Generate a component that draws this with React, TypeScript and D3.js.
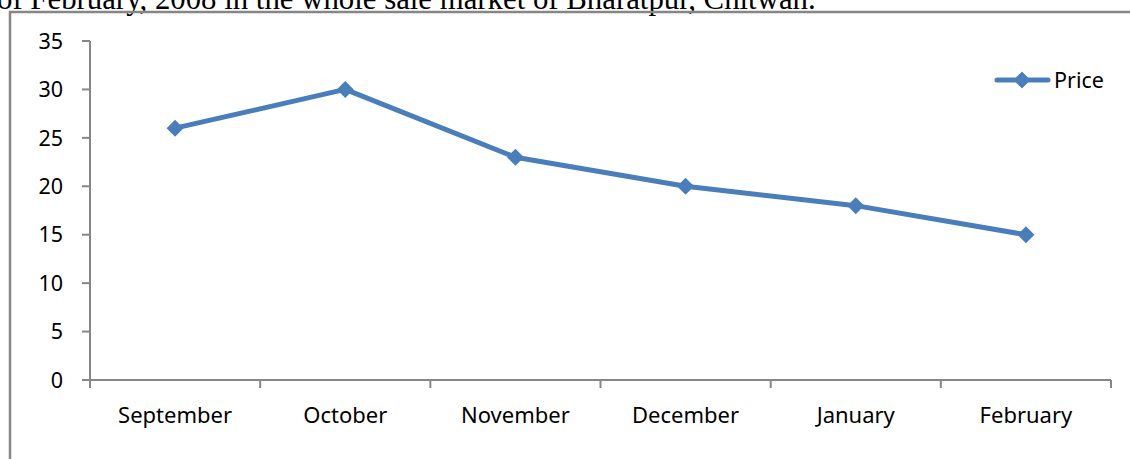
import React from "react"
import * as d3 from "d3"

const MONTHS = ["September", "October", "November", "December", "January", "February"]
const PRICES = [26, 30, 23, 20, 18, 15]
const Y_TICKS = [0, 5, 10, 15, 20, 25, 30, 35]
const SERIES_NAME = "Price"
const CAPTION = "of February, 2008 in the whole sale market of Bharatpur, Chitwan."

const W = 1130
const H = 459
const PLOT = { left: 90, right: 1111, top: 41, bottom: 380 }
const BLUE = "#4A7EBB"
const AXIS = "#868686"
const FONT = "'Noto Sans', sans-serif"

const diamond = (x: number, y: number, r: number) =>
    `M${x},${y - r}L${x + r},${y}L${x},${y + r}L${x - r},${y}Z`

export default function App() {
    const x = d3.scaleBand().domain(MONTHS).range([PLOT.left, PLOT.right])
    const y = d3.scaleLinear().domain([0, 35]).range([PLOT.bottom, PLOT.top])
    const cx = (m: string) => (x(m) ?? 0) + x.bandwidth() / 2

    const line = d3
        .line<number>()
        .x((_, i) => cx(MONTHS[i]))
        .y((d) => y(d))

    const xTicks = MONTHS.map((m) => x(m) ?? 0).concat([PLOT.right])

    return (
        <svg
            width={W}
            height={H}
            style={{ position: "absolute", left: 0, top: 0, background: "#fff" }}
        >
            <text x={-3} y={9} fontFamily="'Liberation Serif', serif" fontSize={30.8} fill="#000">
                {CAPTION}
            </text>
            {/* chart frame */}
            <path d={`M10,${H}V12H${W}`} fill="none" stroke={AXIS} strokeWidth={2.5} />

            {/* y axis */}
            <line x1={PLOT.left} x2={PLOT.left} y1={y(35)} y2={y(0)} stroke={AXIS} strokeWidth={2} />
            {Y_TICKS.map((t) => (
                <g key={t}>
                    <line x1={PLOT.left - 8} x2={PLOT.left} y1={y(t)} y2={y(t)} stroke={AXIS} strokeWidth={2} />
                    <text
                        x={63}
                        y={y(t)}
                        dy="0.36em"
                        textAnchor="end"
                        fontFamily={FONT}
                        fontSize={21.5}
                        fill="#000"
                    >
                        {t}
                    </text>
                </g>
            ))}

            {/* x axis */}
            <line x1={PLOT.left} x2={PLOT.right} y1={y(0)} y2={y(0)} stroke={AXIS} strokeWidth={2} />
            {xTicks.map((t, i) => (
                <line key={i} x1={t} x2={t} y1={y(0)} y2={y(0) + 8} stroke={AXIS} strokeWidth={2} />
            ))}
            {MONTHS.map((m) => (
                <text
                    key={m}
                    x={cx(m)}
                    y={423}
                    textAnchor="middle"
                    fontFamily={FONT}
                    fontSize={22}
                    fill="#000"
                >
                    {m}
                </text>
            ))}

            {/* series */}
            <path
                d={line(PRICES) ?? ""}
                fill="none"
                stroke={BLUE}
                strokeWidth={5}
                strokeLinejoin="round"
                strokeLinecap="round"
            />
            {PRICES.map((p, i) => (
                <path key={i} d={diamond(cx(MONTHS[i]), y(p), 8.5)} fill={BLUE} />
            ))}

            {/* legend */}
            <line x1={997} x2={1048} y1={80} y2={80} stroke={BLUE} strokeWidth={5} strokeLinecap="round" />
            <path d={diamond(1022, 80, 8.5)} fill={BLUE} />
            <text x={1054} y={80} dy="0.36em" fontFamily={FONT} fontSize={21.5} fill="#000">
                {SERIES_NAME}
            </text>
        </svg>
    )
}
